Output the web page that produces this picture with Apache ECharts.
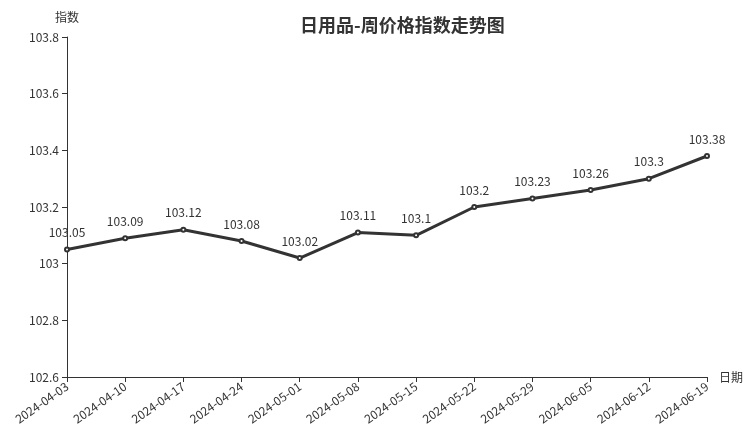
<!DOCTYPE html>
<html><head><meta charset="utf-8">
<script src="https://cdn.jsdelivr.net/npm/echarts@6/dist/echarts.min.js"></script>
<style>html,body{margin:0;padding:0;background:#fff}#c{width:752px;height:427px}</style>
</head><body><div id="c"></div>
<script>
const categories = ['2024-04-03','2024-04-10','2024-04-17','2024-04-24','2024-05-01','2024-05-08','2024-05-15','2024-05-22','2024-05-29','2024-06-05','2024-06-12','2024-06-19'];
const values = [103.05,103.09,103.12,103.08,103.02,103.11,103.1,103.2,103.23,103.26,103.3,103.38];
const titleText = '日用品-周价格指数走势图';
const font = '"Noto Sans CJK SC","Noto Sans",sans-serif';
const chart = echarts.init(document.getElementById('c'));
chart.setOption({
  animation:false,
  textStyle:{fontFamily:font},
  title:{text:titleText,left:295,top:11,textStyle:{fontSize:18,fontWeight:'bold',color:'#333',fontFamily:font}},
  grid:{left:67,right:45,top:37,bottom:49},
  xAxis:{type:'category',data:categories,boundaryGap:false,name:'日期',nameGap:12,
    nameTextStyle:{color:'#333',fontSize:12,verticalAlign:'middle'},
    axisLine:{lineStyle:{color:'#333',width:1}},
    axisTick:{alignWithLabel:true,lineStyle:{color:'#333'}},
    axisLabel:{rotate:35,color:'#333',fontSize:12,margin:8}},
  yAxis:{type:'value',min:102.6,max:103.8,interval:0.2,name:'指数',nameGap:14,
    nameTextStyle:{color:'#333',fontSize:12,align:'center'},
    axisLine:{show:true,lineStyle:{color:'#333',width:1}},
    axisTick:{show:true,lineStyle:{color:'#333'}},
    splitLine:{show:false},
    axisLabel:{color:'#333',fontSize:12,formatter:v=>String(Math.round(v*10)/10)}},
  series:[{type:'line',data:values,symbol:'emptyCircle',symbolSize:4,
    lineStyle:{color:'#333',width:3},itemStyle:{color:'#333',borderWidth:1},
    label:{show:true,position:'top',distance:8,color:'#333',fontSize:12}}]
});
</script></body></html>
